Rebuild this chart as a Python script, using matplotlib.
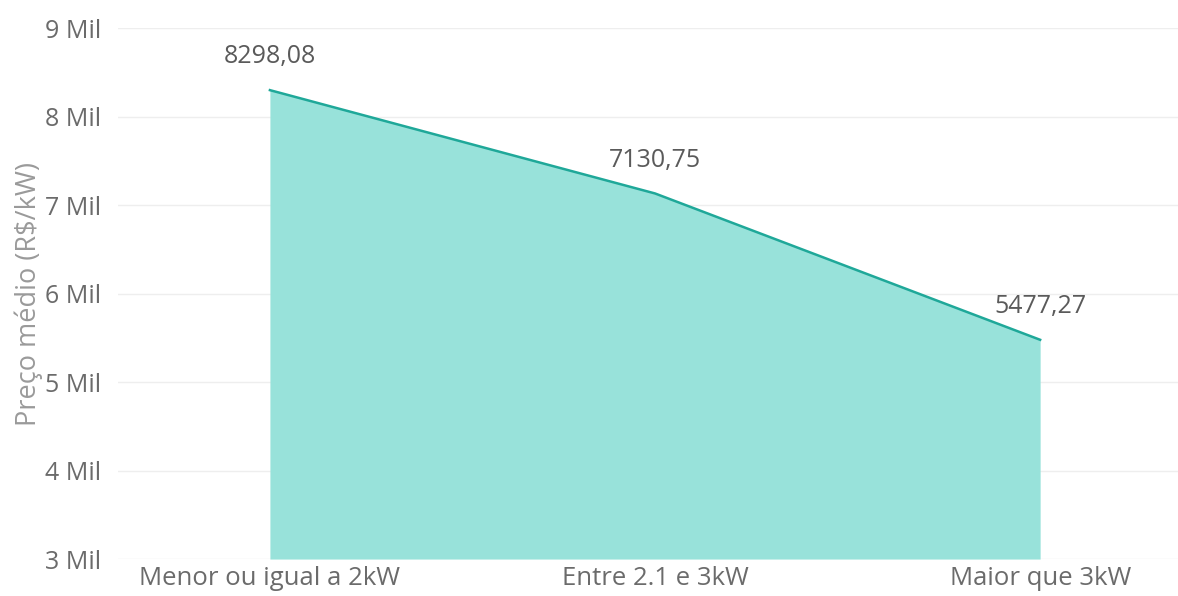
import matplotlib.pyplot as plt
import numpy as np

categories = ["Menor ou igual a 2kW", "Entre 2.1 e 3kW", "Maior que 3kW"]
prices = [8298.08, 7130.75, 5477.27]
value_labels = ["8298,08", "7130,75", "5477,27"]
y_ticks = [3000, 4000, 5000, 6000, 7000, 8000, 9000]
y_tick_labels = ["3 Mil", "4 Mil", "5 Mil", "6 Mil", "7 Mil", "8 Mil", "9 Mil"]

FILL = "#98e2da"
LINE = "#1fa899"
TEXT = "#6b6b6b"

plt.rcParams["font.family"] = ["Open Sans", "DejaVu Sans"]

fig = plt.figure(figsize=(11.78, 5.96), dpi=100)
ax = fig.add_axes([0.100, 0.062, 0.900, 0.891])

x = np.arange(len(categories))
ax.fill_between(x, prices, 3000, color=FILL, linewidth=0, zorder=2)
ax.plot(x, prices, color=LINE, linewidth=1.8, zorder=3)

for xi, v, lab in zip(x, prices, value_labels):
    ax.annotate(lab, (xi, v), xytext=(0, 24), textcoords="offset points",
                ha="center", va="center", fontsize=18, color="#5a5a5a")

ax.set_ylim(3000, 9000)
ax.set_xlim(-0.395, 2.358)
ax.set_yticks(y_ticks)
ax.set_yticklabels(y_tick_labels, fontsize=18, color=TEXT)
ax.set_xticks(x)
ax.set_xticklabels(categories, fontsize=18.5, color=TEXT)
ax.tick_params(length=0, axis="y", pad=12)
ax.tick_params(length=0, axis="x", pad=5)
ax.grid(True, axis="y", color="#eeeeee", linewidth=1, zorder=0)
for s in ax.spines.values():
    s.set_visible(False)
ax.set_ylabel("Preço médio (R$/kW)", fontsize=19.5, color="#9a9a9a", labelpad=1)

plt.savefig("out.png", dpi=100)
